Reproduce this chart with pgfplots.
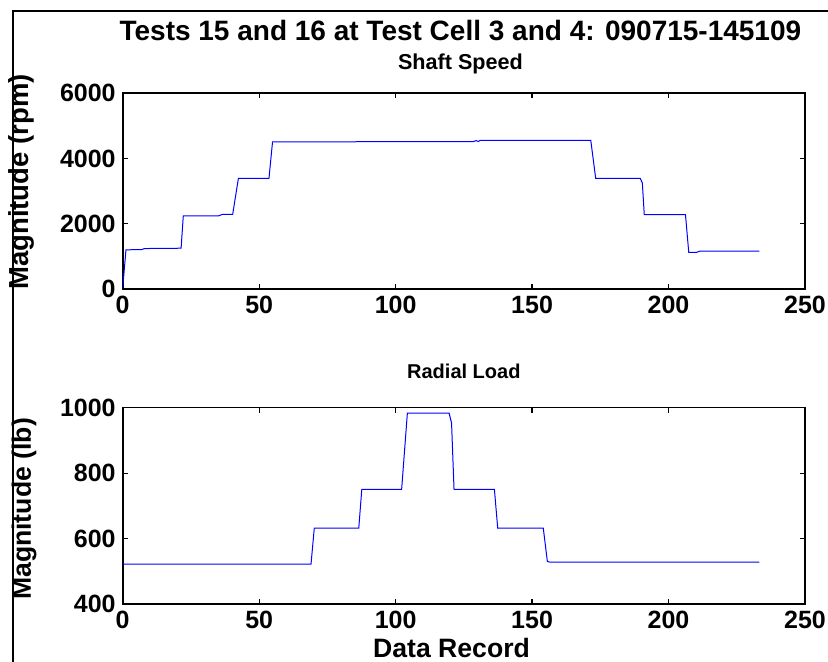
\documentclass[border=0pt]{standalone}
\usepackage{pgfplots}
\pgfplotsset{compat=1.18}
\usepackage{fontspec}
\setmainfont{Liberation Sans}
\pgfplotsset{
  mlab/.style={
    scale only axis, width=341.15pt,
    xmin=0, xmax=250, xtick={0,50,...,250},
    tick align=inside, major tick length=2.5pt,
    axis line style={line width=0.8pt},
    every tick/.style={black, line width=0.6pt},
    ticklabel style={font=\bfseries\fontsize{12.5}{14}\selectfont},
    /pgf/number format/assume math mode=true,
    /pgf/number format/set thousands separator={},
    scaled ticks=false,
  }
}
\begin{document}
\begin{tikzpicture}
\useasboundingbox (0,0) rectangle (414pt,331pt);
\draw[line width=1pt] (6.35pt,0) -- (6.35pt,325.65pt) -- (414pt,325.65pt);
% top
\begin{axis}[mlab, at={(61.35pt,186.5pt)}, anchor=south west, height=97.85pt,
  ymin=0, ymax=6000, ytick={0,2000,4000,6000},
  title={{\fontsize{14}{16}\selectfont Tests 15 and 16 at Test Cell 3 and 4: 090715-145109}\\[2.5pt]{\fontsize{10.8}{13}\selectfont Shaft Speed}},
  title style={font=\bfseries, align=center, at={(axis description cs:0.495,1.176)}, anchor=center},
  ylabel={Magnitude (rpm)},
  ylabel style={font=\bfseries\fontsize{13.75}{15}\selectfont, at={(axis description cs:-0.148,0.547)}, anchor=center},
]
\addplot[blue, line width=0.5pt] coordinates {
(0,30) (1.2,1200) (7,1210) (8,1240) (21.4,1250) (22.2,2240) (35,2240) (36.5,2285) (40.3,2290)
(42.4,3395) (53.6,3395) (54.9,4510) (128.5,4520) (129.5,4550) (130.3,4520) (131,4560)
(171.5,4560) (173.3,3395) (189.6,3395) (190.4,3250) (191.1,2280) (206.2,2280)
(207.4,1125) (210.3,1125) (211.5,1160) (233.3,1160)
};
\end{axis}
% bottom
\begin{axis}[mlab, at={(61.35pt,29pt)}, anchor=south west, height=98.15pt,
  ymin=400, ymax=1000, ytick={400,600,800,1000},
  title={Radial Load},
  title style={font=\bfseries\fontsize{10}{12}\selectfont, at={(axis description cs:0.5,1.126)}, anchor=center},
  xlabel={Data Record},
  xlabel style={font=\bfseries\fontsize{13.3}{15}\selectfont, at={(axis description cs:0.482,-0.224)}, anchor=center},
  ylabel={Magnitude (lb)},
  ylabel style={font=\bfseries\fontsize{13.3}{15}\selectfont, at={(axis description cs:-0.1447,0.484)}, anchor=center},
]
\addplot[blue, line width=0.5pt] coordinates {
(0,522) (69,522) (70.2,632) (86.5,632) (87.6,750) (102.2,750) (104.3,983) (119.6,983)
(120.5,953) (121.4,750) (136.2,750) (137.4,632) (154.1,632) (155.6,530) (156.5,528) (233.3,528)
};
\end{axis}
\end{tikzpicture}
\end{document}
